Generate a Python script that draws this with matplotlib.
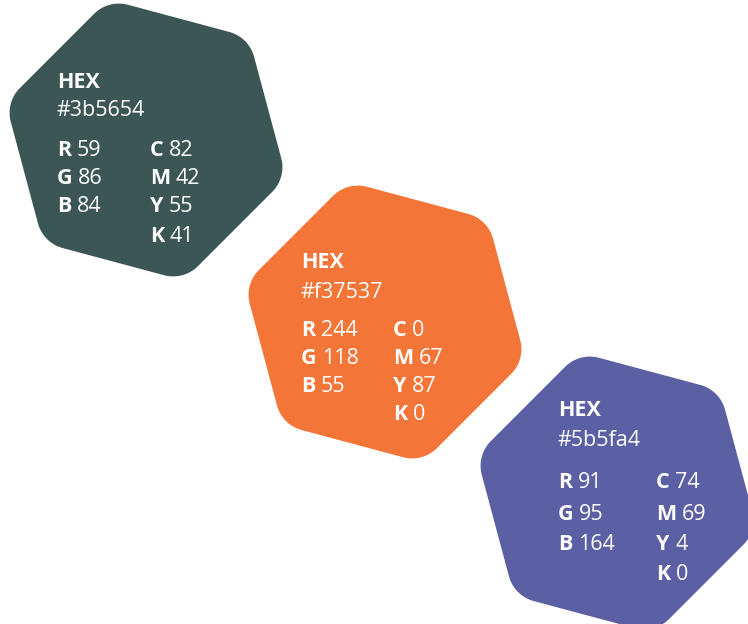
import numpy as np
import matplotlib.pyplot as plt
from matplotlib.patches import Polygon

# swatch data ###################################################################
hex_codes = ["#3b5654", "#f37537", "#5b5fa4"]
rgb_vals = [[59, 86, 84], [244, 118, 55], [91, 95, 164]]
cmyk_vals = [[82, 42, 55, 41], [0, 67, 87, 0], [74, 69, 4, 0]]
rgb_keys = ["R", "G", "B"]
cmyk_keys = ["C", "M", "Y", "K"]

# layout (pixels, y down) -------------------------------------------------------
centers = [(146, 140), (385, 322), (617, 493)]
text_x = [(57, 150), (301, 393), (558, 656)]
text_y = [[82, 111, 150, 178, 207, 236],
          [263, 292, 330, 358, 387, 415],
          [410, 440, 483, 514, 545, 575]]
W, H = 748, 624
FONT = "Open Sans"
FS = 15.5


def rounded_hex(cx, cy, r_in=105, r_corner=35, rot=-105):
    pts = []
    for k in range(6):
        phi = np.radians(rot + 60 * k)
        vx, vy = cx + r_in * np.cos(phi), cy + r_in * np.sin(phi)
        for a in np.linspace(phi - np.pi / 6, phi + np.pi / 6, 16):
            pts.append((vx + r_corner * np.cos(a), vy + r_corner * np.sin(a)))
    return pts


fig = plt.figure(figsize=(W / 100, H / 100), dpi=100)
ax = fig.add_axes([0, 0, 1, 1])
ax.set_xlim(0, W)
ax.set_ylim(H, 0)
ax.axis("off")


def pair(x, y, key, val):
    t = ax.text(x, y, key, color="white", fontsize=FS, fontweight="bold",
                family=FONT, va="center", ha="left")
    ax.annotate(str(val), xy=(1, 0.5), xycoords=t, xytext=(4, 0),
                textcoords="offset points", color="white", fontsize=FS,
                family=FONT, va="center", ha="left")


for i, code in enumerate(hex_codes):
    ax.add_patch(Polygon(rounded_hex(*centers[i]), closed=True,
                         facecolor=code, edgecolor="none"))
    x1, x2 = text_x[i]
    ys = text_y[i]
    ax.text(x1, ys[0], "HEX", color="white", fontsize=FS, fontweight="bold",
            family=FONT, va="center")
    ax.text(x1, ys[1], code, color="white", fontsize=FS,
            family=FONT, va="center")
    for j, k in enumerate(rgb_keys):
        pair(x1, ys[2 + j], k, rgb_vals[i][j])
    for j, k in enumerate(cmyk_keys):
        pair(x2, ys[2 + j], k, cmyk_vals[i][j])

fig.savefig("out.png", dpi=100)
